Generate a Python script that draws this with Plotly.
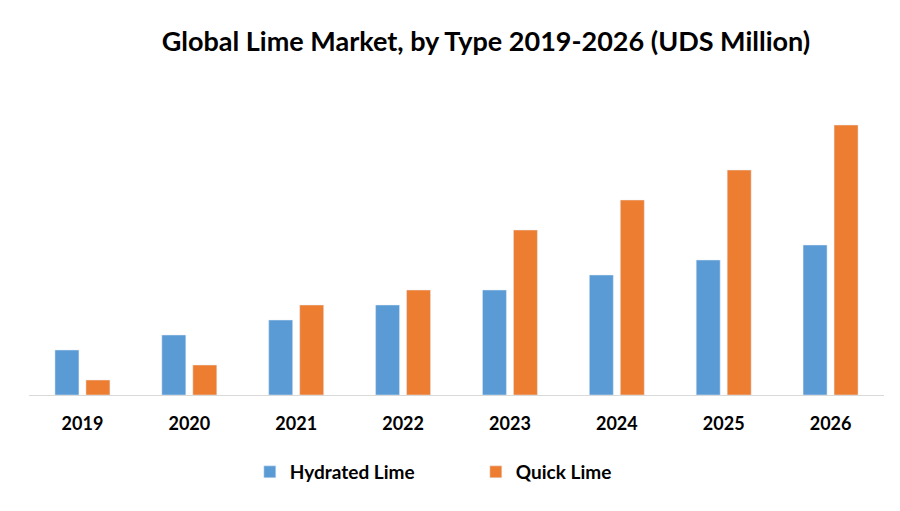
import plotly.graph_objects as go

years = ["2019", "2020", "2021", "2022", "2023", "2024", "2025", "2026"]
hydrated = [3, 4, 5, 6, 7, 8, 9, 10]
quick = [1, 2, 6, 7, 11, 13, 15, 18]

FONT = "Lato"

fig = go.Figure()
fig.add_trace(go.Bar(name="Hydrated Lime", x=years, y=hydrated, marker_color="#5B9BD5"))
fig.add_trace(go.Bar(name="Quick Lime", x=years, y=quick, marker_color="#ED7D31"))

W, H = 892, 503
fig.update_layout(
    width=W, height=H,
    margin=dict(l=21, r=16, t=92, b=116),
    paper_bgcolor="white", plot_bgcolor="white",
    barmode="group", bargap=0.42, bargroupgap=0.226,
    title=dict(text="<b>Global Lime Market, by Type 2019-2026 (UDS Million)</b>",
               x=478/W, xanchor="center", y=1 - 34/H, yanchor="middle",
               font=dict(family=FONT, size=27, color="black")),
    font=dict(family=FONT, color="black"),
    showlegend=True,
    legend=dict(orientation="h", x=0.5226, xanchor="center", y=-0.261, yanchor="middle",
                font=dict(family=FONT, size=19, color="black", weight="bold"),
                entrywidth=181, entrywidthmode="pixels", traceorder="normal"),
    xaxis=dict(showline=True, linecolor="#D9D9D9", linewidth=1, ticks="",
               tickfont=dict(family=FONT, size=18, color="black", weight="bold"),
               ticklabelstandoff=12, showgrid=False),
    yaxis=dict(range=[0, 295/15], visible=False, showgrid=False, zeroline=False),
)

fig.write_html("out.html")
